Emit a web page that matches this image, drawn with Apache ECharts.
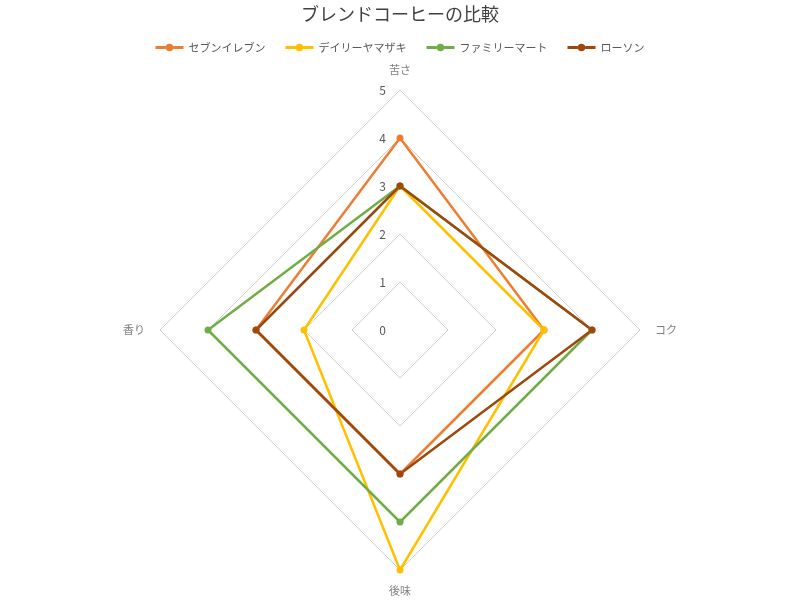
<!DOCTYPE html>
<html><head><meta charset="utf-8">
<script src="https://cdn.jsdelivr.net/npm/echarts@6/dist/echarts.min.js"></script>
<style>html,body{margin:0;padding:0;background:#fff}#c{width:800px;height:600px}</style>
</head><body><div id="c"></div>
<script>
// indicator order as ECharts draws them (counter-clockwise from top): top, left, bottom, right
const indicators = ['苦さ', '香り', '後味', 'コク'];
const maxValue = 5;
const seriesNames = ['セブンイレブン', 'デイリーヤマザキ', 'ファミリーマート', 'ローソン'];
const seven = [4, 3, 3, 3];
const daily = [3, 2, 5, 3];
const family = [3, 4, 4, 4];
const lawson = [3, 3, 3, 4];
const colors = ['#ED7D31', '#FFC000', '#70AD47', '#9E480E'];

const values = [seven, daily, family, lawson];
const font = '"Noto Sans CJK JP", "Noto Sans", sans-serif';
const legendIcon = 'path://M0,2.5H11V5.5H0Z M19,2.5H30V5.5H19Z M11,4A4,4 0 1,1 19,4A4,4 0 1,1 11,4Z';
const chart = echarts.init(document.getElementById('c'));
chart.setOption({
  animation: false,
  color: colors,
  textStyle: { fontFamily: font },
  title: { text: 'ブレンドコーヒーの比較', left: 'center', top: 0,
    textStyle: { fontFamily: font, fontSize: 18, fontWeight: 'normal', color: '#404040' } },
  legend: { top: 37, left: 'center', itemGap: 20, itemWidth: 28, itemHeight: 8,
    icon: legendIcon,
    textStyle: { fontFamily: font, fontSize: 11, color: '#595959' },
    data: seriesNames },
  radar: {
    center: [400, 330], radius: 240, shape: 'polygon', startAngle: 90,
    splitNumber: 5,
    axisName: { color: '#808080', fontSize: 11, fontFamily: font },
    nameGap: 15,
    axisLine: { show: false },
    axisTick: { show: false },
    splitArea: { show: false },
    splitLine: { lineStyle: { color: '#d0d0d0', width: 1 } },
    axisLabel: { show: true, color: '#595959', fontSize: 12, fontFamily: font, margin: 14 },
    indicator: indicators.map((n, i) => ({ name: n, min: 0, max: maxValue,
      axisLabel: { show: i === 0 } }))
  },
  series: [{
    type: 'radar',
    symbol: 'circle', symbolSize: 7,
    lineStyle: { width: 2.5 },
    data: seriesNames.map((n, i) => ({ name: n, value: values[i],
      itemStyle: { color: colors[i] }, lineStyle: { color: colors[i], width: 2.5 } }))
  }]
});
</script></body></html>
